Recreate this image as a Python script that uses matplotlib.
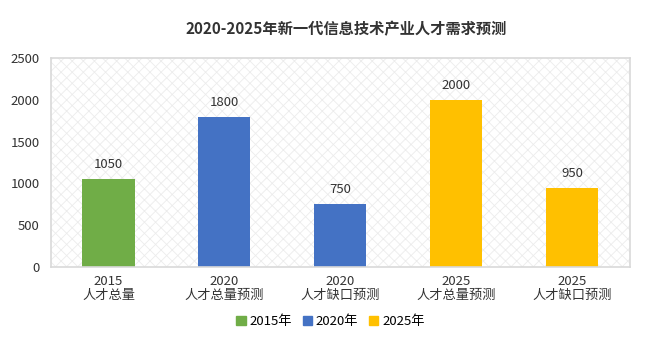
import matplotlib.pyplot as plt
import matplotlib.patches as mpatches
import matplotlib as mpl

plt.rcParams['font.family'] = ['Noto Sans CJK SC', 'DejaVu Sans']
mpl.rcParams['hatch.linewidth'] = 0.6

labels = ['2015\n人才总量', '2020\n人才总量预测', '2020\n人才缺口预测',
          '2025\n人才总量预测', '2025\n人才缺口预测']
values = [1050, 1800, 750, 2000, 950]
groups = ['2015年', '2020年', '2020年', '2025年', '2025年']
group_colors = {'2015年': '#70AD47', '2020年': '#4472C4', '2025年': '#FFC000'}
yticks = [0, 500, 1000, 1500, 2000, 2500]

fig = plt.figure(figsize=(6.48, 3.39), dpi=100)
ax = fig.add_axes([0.078, 0.212, 0.894, 0.617])

# faint crosshatch background like the original
bg = mpatches.Rectangle((0, 0), 1, 1, transform=ax.transAxes, facecolor='white',
                        edgecolor='#ececec', hatch='xxx', linewidth=0, zorder=0)
ax.add_patch(bg)

x = range(len(values))
cols = [group_colors[g] for g in groups]
ax.bar(x, values, width=0.45, color=cols, zorder=2)
for xi, v in zip(x, values):
    ax.text(xi, v + 95, str(v), ha='center', va='bottom', fontsize=9.5, color='#333333')

ax.set_xlim(-0.5, 4.5)
ax.set_ylim(0, 2500)
ax.set_yticks(yticks)
ax.set_xticks(list(x))
ax.set_xticklabels(labels, fontsize=9.5, color='#333333', linespacing=1.1)
ax.tick_params(axis='y', labelsize=9.5, colors='#333333', length=0, pad=8)
ax.tick_params(axis='x', length=0, pad=6)
for s in ax.spines.values():
    s.set_color('#d9d9d9')
    s.set_linewidth(1.2)

handles = [mpatches.Patch(color=c, label=g) for g, c in group_colors.items()]
fig.legend(handles=handles, loc='center', bbox_to_anchor=(0.51, 0.052), ncol=3,
           frameon=False, fontsize=9.5, handlelength=0.7, handleheight=0.7,
           handletextpad=0.3, columnspacing=0.8)

fig.text(0.535, 0.915, '2020-2025年新一代信息技术产业人才需求预测', ha='center', va='center',
         fontsize=11, fontweight='bold', color='#333333')

fig.savefig('out.png', dpi=100, facecolor='white')
